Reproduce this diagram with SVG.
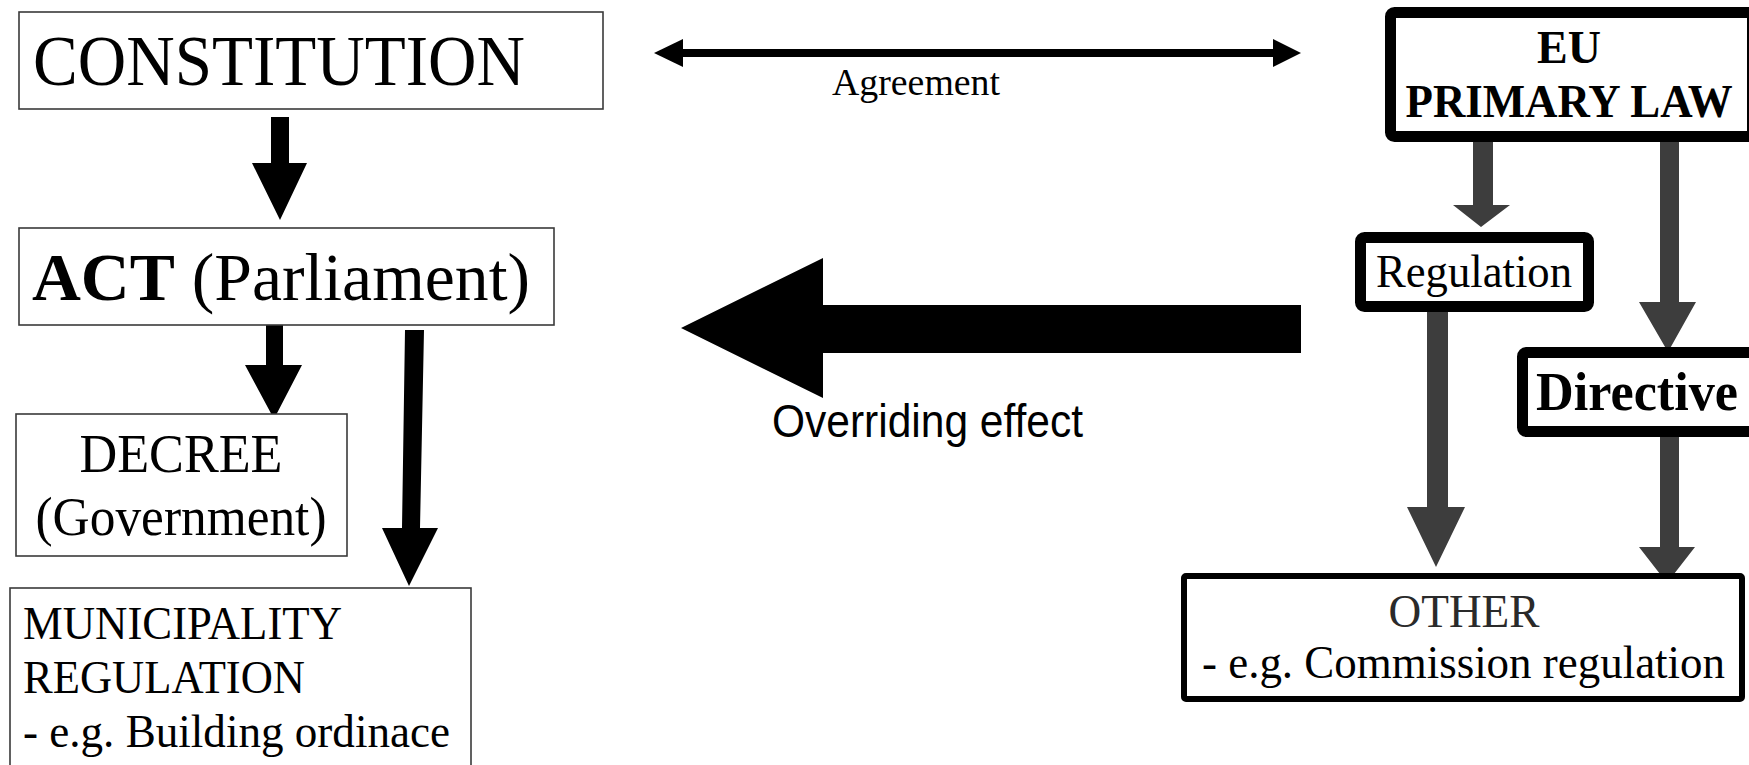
<svg xmlns="http://www.w3.org/2000/svg" width="1749" height="765" viewBox="0 0 1749 765">
<style>
.serif{font-family:"Liberation Serif","Times New Roman",serif;fill:#000}
.sans{font-family:"Liberation Sans",Arial,sans-serif;fill:#000}
.b{font-weight:bold}
.thin{fill:#fff;stroke:#3a3a3a;stroke-width:1.6}
.thick{fill:#fff;stroke:#000;stroke-width:11}
.blk{fill:#000}
.gry{fill:#3d3d3d}
</style>
<rect width="1749" height="765" fill="#fff"/>
<g id="connectors">
  <polygon class="blk" points="271,117 289,117 289,163 307,163 280,220 252,163 271,163"/>
  <polygon class="blk" points="266,320 283,320 283,365 302,365 274,419 245,365 266,365"/>
  <polygon class="blk" points="405,330 424,330 420,528 438,528 409,586 382,528 402,528"/>
  <g id="agreement">
    <line x1="680" y1="53" x2="1276" y2="53" stroke="#000" stroke-width="8"/>
    <polygon class="blk" points="654,53 683,39 683,67"/>
    <polygon class="blk" points="1301,53 1273,39 1273,67"/>
  </g>
  <polygon class="blk" points="681,328 823,258 823,305 1301,305 1301,353 823,353 823,398"/>
  <polygon class="gry" points="1473,140 1493,140 1493,205 1510,205 1481,227 1453,205 1473,205"/>
  <polygon class="gry" points="1660,140 1679,140 1679,302 1696,302 1668,352 1639,302 1660,302"/>
  <polygon class="gry" points="1427,312 1448,312 1448,507 1465,507 1436,567 1407,507 1427,507"/>
  <polygon class="gry" points="1660,428 1679,428 1679,547 1695,547 1667,583 1639,547 1660,547"/>
</g>
<g id="constitution">
  <rect class="thin" x="19" y="12" width="584" height="97"/>
  <text class="serif" x="33" y="85" font-size="72" textLength="492" lengthAdjust="spacingAndGlyphs">CONSTITUTION</text>
</g>
<g id="act">
  <rect class="thin" x="19" y="228" width="535" height="97"/>
  <text class="serif" x="32" y="300" font-size="68" textLength="498" lengthAdjust="spacingAndGlyphs"><tspan class="b">ACT</tspan> (Parliament)</text>
</g>
<g id="decree">
  <rect class="thin" x="16" y="414" width="331" height="142"/>
  <text class="serif" x="181" y="472" font-size="55" text-anchor="middle" textLength="203" lengthAdjust="spacingAndGlyphs">DECREE</text>
  <text class="serif" x="181" y="535" font-size="54" text-anchor="middle" textLength="291" lengthAdjust="spacingAndGlyphs">(Government)</text>
</g>
<g id="municipality">
  <rect class="thin" x="10" y="588" width="461" height="200"/>
  <text class="serif" x="23" y="639" font-size="46" textLength="319" lengthAdjust="spacingAndGlyphs">MUNICIPALITY</text>
  <text class="serif" x="23" y="693" font-size="46" textLength="282" lengthAdjust="spacingAndGlyphs">REGULATION</text>
  <text class="serif" x="23" y="747" font-size="46" textLength="427" lengthAdjust="spacingAndGlyphs">- e.g. Building ordinace</text>
</g>
<g id="agreement-label">
  <text class="serif" x="832" y="95" font-size="38" textLength="168" lengthAdjust="spacingAndGlyphs">Agreement</text>
</g>
<g id="overriding-label">
  <text class="sans" x="772" y="437" font-size="46" textLength="311" lengthAdjust="spacingAndGlyphs">Overriding effect</text>
</g>
<g id="eu-primary-law">
  <rect class="thick" x="1390.5" y="12.5" width="362" height="124" rx="4"/>
  <text class="serif b" x="1569" y="63" font-size="46" text-anchor="middle">EU</text>
  <text class="serif b" x="1569" y="117" font-size="46" text-anchor="middle" textLength="327" lengthAdjust="spacingAndGlyphs">PRIMARY LAW</text>
</g>
<g id="regulation">
  <rect class="thick" x="1360.5" y="237.5" width="228" height="69" rx="4"/>
  <text class="serif" x="1376" y="287" font-size="46" textLength="196" lengthAdjust="spacingAndGlyphs">Regulation</text>
</g>
<g id="directive">
  <rect class="thick" x="1522.5" y="352.5" width="240" height="79" rx="4"/>
  <text class="serif b" x="1536" y="410" font-size="54" textLength="202" lengthAdjust="spacingAndGlyphs">Directive</text>
</g>
<g id="other">
  <rect x="1184" y="576" width="558" height="123" fill="#fff" stroke="#000" stroke-width="6" rx="2"/>
  <text class="serif" x="1464" y="627" font-size="47" text-anchor="middle" textLength="151" lengthAdjust="spacingAndGlyphs" style="fill:#2a2a2a">OTHER</text>
  <text class="serif" x="1202" y="678" font-size="47" textLength="523" lengthAdjust="spacingAndGlyphs">- e.g. Commission regulation</text>
</g>
</svg>
